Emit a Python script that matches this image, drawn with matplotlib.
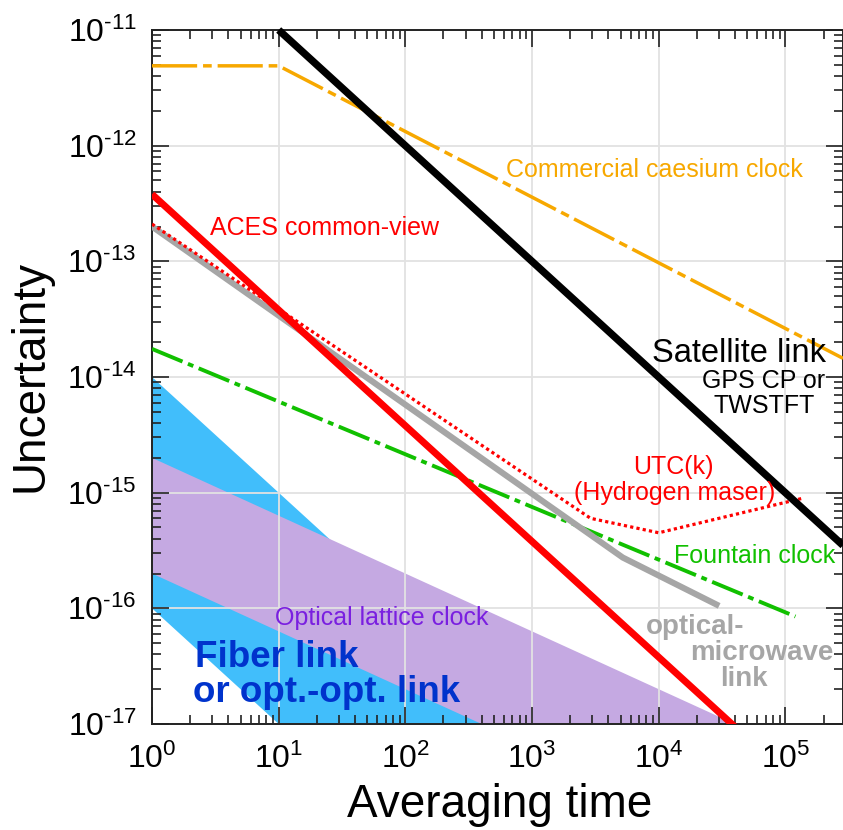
import matplotlib
matplotlib.use("Agg")
import matplotlib.pyplot as plt
from matplotlib.ticker import FixedLocator, FuncFormatter, NullFormatter
import numpy as np

plt.rcParams['font.family'] = ['Liberation Sans', 'DejaVu Sans']
plt.rcParams['mathtext.fontset'] = 'custom'
plt.rcParams['mathtext.rm'] = 'Liberation Sans'
plt.rcParams['mathtext.it'] = 'Liberation Sans:italic'
plt.rcParams['mathtext.bf'] = 'Liberation Sans:bold'

# ---- data (averaging time tau [s], uncertainty) ----
caesium_tau = [1, 10, 2.85e5]
caesium_sigma = [4.9e-12, 4.9e-12, 1.45e-14]

satellite_tau = [10, 2.85e5]
satellite_sigma = [1.0e-11, 3.5e-16]

aces_tau = [1, 4.2e4]
aces_sigma = [3.8e-13, 0.9e-17]

optmw_tau = [1, 5.2e3, 3.0e4]
optmw_sigma = [2.0e-13, 2.75e-16, 1.05e-16]

utc_tau = [1, 2.9e3, 1.0e4, 1.4e5]
utc_sigma = [2.1e-13, 6.0e-16, 4.5e-16, 9.0e-16]

fountain_tau = [1, 1.2e5]
fountain_sigma = [1.75e-14, 8.5e-17]

fiber_tau = [1, 1e3, 10, 1]
fiber_sigma = [1e-14, 1e-17, 1e-17, 1e-16]

lattice_tau = [1, 4e4, 4e2, 1]
lattice_sigma = [2e-15, 1e-17, 1e-17, 2e-16]

x_major = [1e0, 1e1, 1e2, 1e3, 1e4, 1e5]
y_major = [1e-17, 1e-16, 1e-15, 1e-14, 1e-13, 1e-12, 1e-11]

xlim = (1, 2.85e5)
ylim = (1e-17, 1e-11)

W, H = 843, 830
fig = plt.figure(figsize=(W / 100, H / 100), dpi=100)
ax = fig.add_axes([152 / W, 1 - 724 / H, 1 - 152 / W, (724 - 30) / H])
ax.set_xscale('log')
ax.set_yscale('log')
ax.set_xlim(*xlim)
ax.set_ylim(*ylim)

ax.fill(fiber_tau, fiber_sigma, color='#41BEFB', lw=0, zorder=1)
ax.fill(lattice_tau, lattice_sigma, color='#C5A9E2', lw=0, zorder=1.1)

ax.grid(True, which='major', color='#E2E2E2', lw=1.3, zorder=1.5)

ax.plot(caesium_tau, caesium_sigma, color='#F7A800', lw=2.5,
        dashes=(13, 1.7, 2.5, 1.7), zorder=3)
ax.plot(fountain_tau, fountain_sigma, color='#11C000', lw=2.8,
        dashes=(8.5, 1.5, 1.5, 1.5), zorder=3)
ax.plot(optmw_tau, optmw_sigma, color='#A6A6A6', lw=4.4, zorder=3.2,
        solid_capstyle='butt')
ax.plot(utc_tau, utc_sigma, color='#FF0000', lw=2.3, linestyle=(0, (1, 1)),
        zorder=3.4)
ax.plot(aces_tau, aces_sigma, color='#FF0000', lw=5.0, zorder=3.6,
        solid_capstyle='butt')
ax.plot(satellite_tau, satellite_sigma, color='#000000', lw=5.3, zorder=3.8,
        solid_capstyle='butt', clip_on=False)


def fmt(v, pos):
    e = int(round(np.log10(v)))
    return r'$10^{\text{%d}}$' % e


ax.xaxis.set_major_locator(FixedLocator(x_major))
ax.yaxis.set_major_locator(FixedLocator(y_major))
x_minor = [m * 10.0 ** k for k in range(0, 6) for m in range(2, 10)
           if m * 10.0 ** k < xlim[1]]
y_minor = [m * 10.0 ** k for k in range(-17, -11) for m in range(2, 10)]
ax.xaxis.set_minor_locator(FixedLocator(x_minor))
ax.yaxis.set_minor_locator(FixedLocator(y_minor))
ax.xaxis.set_minor_formatter(NullFormatter())
ax.yaxis.set_minor_formatter(NullFormatter())
ax.xaxis.set_major_formatter(FuncFormatter(fmt))
ax.yaxis.set_major_formatter(FuncFormatter(fmt))
ax.tick_params(which='both', direction='in', top=True, right=True,
               width=1.2, color='#222222')
ax.tick_params(which='major', length=12, labelsize=23)
ax.tick_params(which='minor', length=6.5)
ax.tick_params(axis='x', which='major', pad=14)
ax.tick_params(axis='y', which='major', pad=11)
for s in ax.spines.values():
    s.set_linewidth(1.4)
    s.set_color('#222222')


def d(px, py):
    lx = (px - 152) / 126.7
    ly = -11 - (py - 30) / 115.5
    return 10 ** lx, 10 ** ly


def t(px, py, s, **kw):
    x, y = d(px, py)
    ax.text(x, y, s, ha=kw.pop('ha', 'center'), va=kw.pop('va', 'center'),
            zorder=5, **kw)


t(655, 170, 'Commercial caesium clock', color='#F7A800', fontsize=18)
t(325, 228, 'ACES common-view', color='#FF0000', fontsize=18)
t(739, 353, 'Satellite link', color='black', fontsize=23.5)
t(764, 380, 'GPS CP or', color='black', fontsize=18)
t(764, 405, 'TWSTFT', color='black', fontsize=18)
t(673, 466, 'UTC(k)', color='#FF0000', fontsize=18)
t(675, 492, '(Hydrogen maser)', color='#FF0000', fontsize=18)
t(755, 555, 'Fountain clock', color='#11C000', fontsize=18)
t(695, 626, 'optical-', color='#A6A6A6', fontsize=20, fontweight='bold')
t(762, 652, 'microwave', color='#A6A6A6', fontsize=20, fontweight='bold')
t(744, 678, 'link', color='#A6A6A6', fontsize=20, fontweight='bold')
t(382, 617, 'Optical lattice clock', color='#7A1FE0', fontsize=18)
t(195, 657, 'Fiber link', color='#0033CC', fontsize=26.5, fontweight='bold',
  ha='left')
t(193, 692, 'or opt.-opt. link', color='#0033CC', fontsize=26.5,
  fontweight='bold', ha='left')

fig.text(31 / W, 1 - 376 / H, 'Uncertainty', rotation=90, ha='center',
         va='center', fontsize=33)
fig.text(500 / W, 1 - 817 / H, 'Averaging time', ha='center', va='baseline',
         fontsize=33)

fig.savefig('out.png', dpi=100)
